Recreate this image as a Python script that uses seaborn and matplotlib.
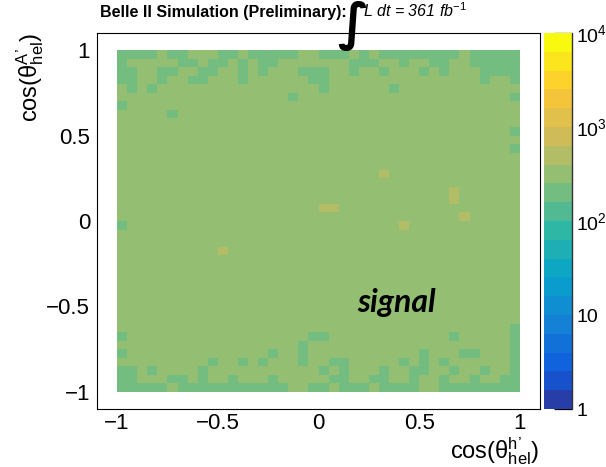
import numpy as np
import pandas as pd
import matplotlib
matplotlib.use("Agg")
import matplotlib.pyplot as plt
import seaborn as sns
from matplotlib.colors import ListedColormap, LogNorm
from matplotlib.ticker import FixedLocator, MultipleLocator, FuncFormatter, LogLocator, NullFormatter

# ---------------------------------------------------------------- data
# 40 x 40 bins in cos(theta_h') (x) and cos(theta_A') (y), both on [-1, 1].
bin_edges = np.linspace(-1.0, 1.0, 41)

# Occupancy class of every bin; first string is the top row (cos(theta_A') near +1),
# characters run from cos(theta_h') = -1 to +1.
#   'd' : depleted edge bins, '.' : bulk of the sample, 'u' : upward fluctuations
occupancy_rows = [
    "dddd.dd...dd.ddddd..ddd.d.dddddddd.ddddd",
    "d.....dd.dd.d.dd.......ddd..d..dd..ddddd",
    "dd..dd..dd..d.d...ddd..d..d...d.d...dddd",
    "dd..d..dd...d......dd...............d..d",
    ".d.d................d......d............",
    ".................d.....................d",
    "d.......................................",
    ".....d..................................",
    "........................................",
    ".......................................d",
    "........................................",
    ".......................................d",
    "........................................",
    "........................................",
    "..........................u.............",
    "........................................",
    ".................................u......",
    ".................................u......",
    "....................uu..................",
    "..................................u.....",
    "d...........................u...........",
    "........................................",
    "........................................",
    "..........u.............................",
    "........................................",
    "........................................",
    "........................................",
    "........................................",
    "........................................",
    "........................................",
    "........................................",
    "........................................",
    ".......................................d",
    "d..................dd............d.....d",
    "..................d....................d",
    "d..............d..d...........d...dd...d",
    ".........d..d.d...d..dd.....d.d.d......d",
    "dd.d....d...........d.d...d..dd..d..d..d",
    "dd...dd.d..d...d.....dd..dd..d..d..d..dd",
    "ddddd.ddddddddddd..dd.ddd.dddd..dddddddd",
]

# Entries per bin for each occupancy class
class_counts = {"d": 215, ".": 320, "u": 460}

# Colour scale
z_min, z_max = 1.0, 1.0e4
n_contours = 20
cbar_ticks = [1, 10, 100, 1000, 10000]
cbar_labels = ["1", "10", "10$^{2}$", "10$^{3}$", "10$^{4}$"]
axis_ticks = [-1.0, -0.5, 0.0, 0.5, 1.0]

# ROOT "kBird" palette stops
bird_stops = [0.0000, 0.1250, 0.2500, 0.3750, 0.5000, 0.6250, 0.7500, 0.8750, 1.0000]
bird_red = [0.2082, 0.0592, 0.0780, 0.0232, 0.1802, 0.5301, 0.8186, 0.9956, 0.9764]
bird_green = [0.1664, 0.3599, 0.5041, 0.6419, 0.7178, 0.7492, 0.7328, 0.7862, 0.9832]
bird_blue = [0.5293, 0.8684, 0.8385, 0.7914, 0.6425, 0.4662, 0.3499, 0.1968, 0.0539]

# ---------------------------------------------------------------- table
centers = 0.5 * (bin_edges[:-1] + bin_edges[1:])
records = []
for r, row in enumerate(occupancy_rows):
    yc = centers[::-1][r]
    for c, code in enumerate(row):
        records.append((centers[c], yc, class_counts[code]))
df = pd.DataFrame(records, columns=["cos_h", "cos_A", "entries"])

# discrete palette: one colour per contour band, picked like ROOT's COLZ
fr = np.array([int((k + 0.99) * 255 / n_contours) / 255.0 for k in range(n_contours)])
band_colors = np.column_stack([
    np.interp(fr, bird_stops, bird_red),
    np.interp(fr, bird_stops, bird_green),
    np.interp(fr, bird_stops, bird_blue),
])
cmap = ListedColormap(band_colors)

# ---------------------------------------------------------------- style
sns.set_style("white")
plt.rcParams["font.family"] = ["Liberation Sans", "DejaVu Sans"]
plt.rcParams["text.color"] = "black"
plt.rcParams["axes.labelcolor"] = "black"
plt.rcParams["mathtext.fontset"] = "custom"
plt.rcParams["mathtext.rm"] = "Liberation Sans"
plt.rcParams["mathtext.it"] = "Liberation Sans:italic"
plt.rcParams["mathtext.bf"] = "Liberation Sans:bold"
plt.rcParams["mathtext.default"] = "regular"
plt.rcParams["axes.unicode_minus"] = True

W, H = 606, 467
fig = plt.figure(figsize=(W / 100, H / 100), dpi=100)
ax = fig.add_axes([97 / W, 1 - 409 / H, (540 - 97) / W, (409 - 33) / H])

sns.histplot(data=df, x="cos_h", y="cos_A", weights="entries",
             bins=(bin_edges, bin_edges), cmap=cmap, cbar=False, ax=ax)
mesh = ax.collections[0]
mesh.set_norm(LogNorm(vmin=z_min, vmax=z_max))

ax.set_xlim(-1.1, 1.1)
ax.set_ylim(-1.1, 1.1)
ax.set_xlabel("")
ax.set_ylabel("")

fmt = FuncFormatter(lambda v, p: f"{v:g}".replace("-", "\u2212"))
for axis in (ax.xaxis, ax.yaxis):
    axis.set_major_locator(FixedLocator(axis_ticks))
    axis.set_minor_locator(MultipleLocator(0.1))
    axis.set_major_formatter(fmt)
ax.tick_params(which="both", direction="in", top=False, right=False,
               colors="black", labelsize=16, width=0.8)
ax.tick_params(which="major", length=12)
ax.tick_params(which="minor", length=6)
ax.tick_params(axis="x", pad=3)
ax.tick_params(axis="y", pad=5)
for s in ax.spines.values():
    s.set_visible(True)
    s.set_color("black")
    s.set_linewidth(0.8)

# colour bar
cax = fig.add_axes([544 / W, 1 - 409 / H, 28 / W, 376 / H])
cb = fig.colorbar(mesh, cax=cax)
cb.outline.set_visible(False)
cax.plot([1, 1], [0, 1], transform=cax.transAxes, color="#333333", lw=1.0, clip_on=False)
cax.yaxis.set_major_locator(FixedLocator(cbar_ticks))
cax.yaxis.set_major_formatter(FuncFormatter(lambda v, p: dict(zip(cbar_ticks, cbar_labels)).get(int(round(v)), "")))
cax.yaxis.set_minor_locator(LogLocator(base=10, subs=np.arange(2, 10)))
cax.yaxis.set_minor_formatter(NullFormatter())
cax.tick_params(which="both", direction="in", left=False, right=True,
                labelleft=False, labelright=True, labelsize=14, colors="black", width=0.9)
cax.tick_params(which="major", length=13, pad=3)
cax.tick_params(which="minor", length=6)

# axis titles
fig.text(539 / W, 1 - 458 / H, "cos(\u03b8$^{h\u2019}_{hel}$)", ha="right", va="baseline", fontsize=17)
fig.text(30 / W, 1 - 33 / H, "cos(\u03b8$^{A\u2019}_{hel}$)", ha="center", va="top",
         rotation=90, fontsize=17)

# header
fig.text(100 / W, 1 - 17 / H, "Belle II Simulation (Preliminary):", ha="left", va="baseline",
         fontsize=11.5, fontweight="bold")
fig.text(353 / W, 1 - 25 / H, "\u222b", ha="center", va="center", fontsize=37,
         family="DejaVu Sans", style="oblique", fontweight="bold")
fig.text(363 / W, 1 - 17 / H, "L dt = 361 fb$^{\\mathit{-1}}$", ha="left", va="baseline",
         fontsize=11.5, style="italic")

# sample label
fig.text(357 / W, 1 - 312 / H, "signal", ha="left", va="baseline", fontsize=23,
         family="Lato", fontweight="bold", style="italic")

fig.savefig("out.png", dpi=100)
